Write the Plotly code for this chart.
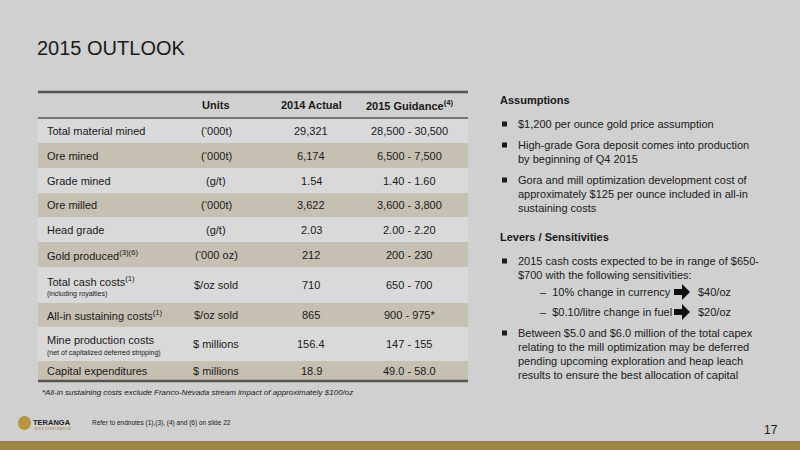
import plotly.graph_objects as go

row_labels = ["Total material mined", "Ore mined", "Grade mined", "Ore milled", "Head grade",
              "Gold produced<sup>(3)(6)</sup>", "Total cash costs<sup>(1)</sup>",
              "All-in sustaining costs<sup>(1)</sup>", "Mine production costs", "Capital expenditures"]
row_sublabels = ["", "", "", "", "", "", "(including royalties)", "", "(net of capitalized deferred stripping)", ""]
units = ["(‘000t)", "(‘000t)", "(g/t)", "(‘000t)", "(g/t)", "(‘000 oz)", "$/oz sold", "$/oz sold", "$ millions", "$ millions"]
actual_2014 = ["29,321", "6,174", "1.54", "3,622", "2.03", "212", "710", "865", "156.4", "18.9"]
guidance_2015 = ["28,500 - 30,500", "6,500 - 7,500", "1.40 - 1.60", "3,600 - 3,800", "2.00 - 2.20",
                 "200 - 230", "650 - 700", "900 - 975*", "147 - 155", "49.0 - 58.0"]
headers = ["Units", "2014 Actual", "2015 Guidance<sup>(4)</sup>"]

W, H = 800, 450
bounds = [118, 143, 168, 193, 217, 242, 267, 303, 327, 361, 381]
xl, xr = 38, 468
colx = [216, 311, 409]
F = "Liberation Sans, Arial, sans-serif"

shapes, ann = [], []
shapes.append(dict(type="rect", x0=0, x1=W, y0=441, y1=H, fillcolor="#9c8443", line_width=0))
for i in range(len(row_labels)):
    col = "#c6c0b2" if i % 2 == 1 else "#d9d9d9"
    shapes.append(dict(type="rect", x0=xl, x1=xr, y0=bounds[i], y1=bounds[i + 1], fillcolor=col, line_width=0, layer="below"))
for y, w in [(92, 2.5), (118, 1.5), (381, 2.5)]:
    shapes.append(dict(type="line", x0=xl, x1=xr, y0=y, y1=y, line=dict(color="#555555", width=w)))

def t(x, y, s, size=11, anchor="left", bold=False, color="#1a1a1a", italic=False):
    if bold: s = "<b>" + s + "</b>"
    if italic: s = "<i>" + s + "</i>"
    ann.append(dict(x=x, y=y, text=s, showarrow=False, xanchor=anchor, yanchor="middle",
                    font=dict(size=size, color=color, family=F)))

t(35, 48, "2015 OUTLOOK", 20)
for x, h in zip(colx, headers):
    t(x, 105, h, 11, "center", bold=True)
for i in range(len(row_labels)):
    yc = (bounds[i] + bounds[i + 1]) / 2
    if row_sublabels[i]:
        t(45, yc - 4, row_labels[i], 11)
        t(45, yc + 9, row_sublabels[i], 7)
    else:
        t(45, yc, row_labels[i], 11)
    t(colx[0], yc, units[i], 11, "center")
    t(colx[1], yc, actual_2014[i], 11, "center")
    t(colx[2], yc, guidance_2015[i], 11, "center")
t(40, 392, "*All-in sustaining costs exclude Franco-Nevada stream impact of approximately $100/oz", 8, italic=True)
t(90, 423, "Refer to endnotes (1),(3), (4) and (6) on slide 22", 6.5)
t(31, 422, "TERANGA", 7.5, bold=True, color="#222222")
t(32, 429, "GOLD CORPORATION", 3.5, color="#9c8443")
shapes.append(dict(type="circle", x0=18, x1=31, y0=416, y1=430, fillcolor="#b8953c", line_width=0))
t(780, 430, "17", 12, "right")

# right column
t(498, 100, "Assumptions", 11, bold=True)
t(498, 237, "Levers / Sensitivities", 11, bold=True)
bullets = [
    (124, ["$1,200 per ounce gold price assumption"]),
    (145, ["High-grade Gora deposit comes into production", "by beginning of Q4 2015"]),
    (180, ["Gora and mill optimization development cost of", "approximately $125 per ounce included in all-in", "sustaining costs"]),
    (261, ["2015 cash costs expected to be in range of $650-", "$700 with the following sensitivities:"]),
    (333, ["Between $5.0 and $6.0 million of the total capex", "relating to the mill optimization may be deferred",
           "pending upcoming exploration and heap leach", "results to ensure the best allocation of capital"]),
]
for y0, lines in bullets:
    shapes.append(dict(type="rect", x0=502, x1=507, y0=y0 - 2.5, y1=y0 + 2.5, fillcolor="#1a1a1a", line_width=0))
    for k, ln in enumerate(lines):
        t(516, y0 + k * 14, ln, 11)
for y, a, b in [(292, "10% change in currency", "$40/oz"), (312, "$0.10/litre change in fuel", "$20/oz")]:
    t(538, y, "–  " + a, 11)
    shapes.append(dict(type="path", path=f"M 674 {y-3} L 682 {y-3} L 682 {y-8} L 690 {y} L 682 {y+8} L 682 {y+3} L 674 {y+3} Z",
                       fillcolor="#111111", line_width=0))
    t(696, y, b, 11)

fig = go.Figure()
fig.update_layout(width=W, height=H, margin=dict(l=0, r=0, t=0, b=0),
                  paper_bgcolor="#d0d0d0", plot_bgcolor="#d0d0d0",
                  xaxis=dict(range=[0, W], visible=False, fixedrange=True),
                  yaxis=dict(range=[H, 0], visible=False, fixedrange=True),
                  shapes=shapes, annotations=ann, showlegend=False)
fig.write_html("out.html", config={"displayModeBar": False},
               post_script="document.body.style.margin='0';document.body.style.overflow='hidden';")
